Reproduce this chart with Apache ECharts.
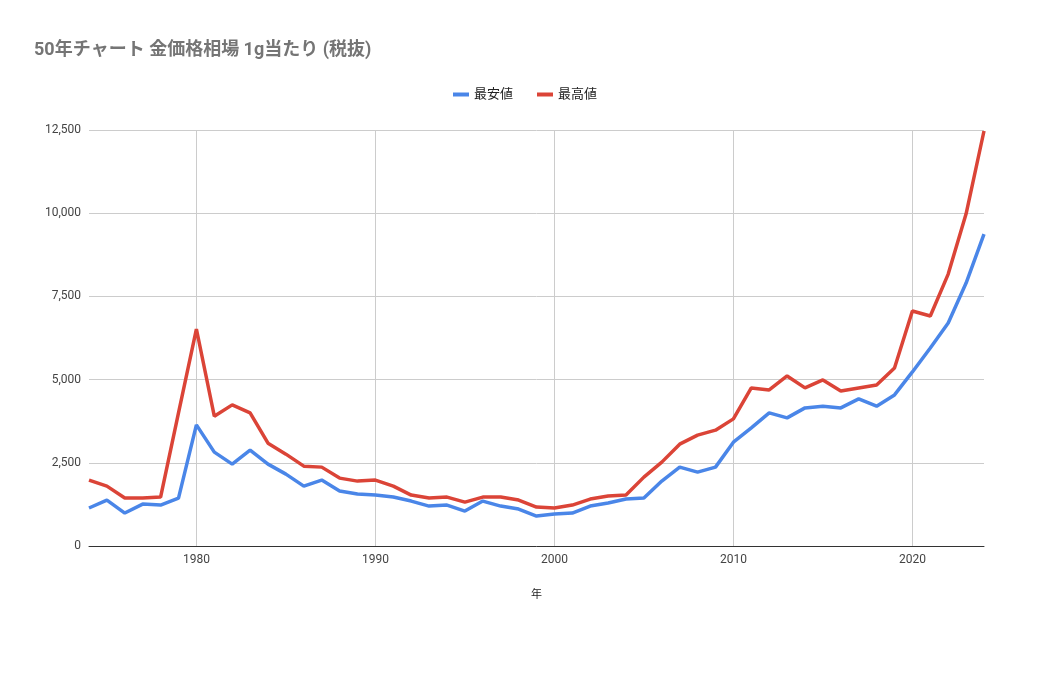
<!DOCTYPE html>
<html><head><meta charset="utf-8">
<script src="https://cdn.jsdelivr.net/npm/echarts@6/dist/echarts.min.js"></script>
<style>html,body{margin:0;padding:0;background:#fff}#c{width:1050px;height:679px}</style>
</head><body><div id="c"></div>
<script>
const years = [];
for (let y = 1974; y <= 2024; y++) years.push(y);
const minValues = [1142,1380,990,1260,1230,1440,3640,2820,2460,2880,2460,2160,1800,1980,1650,1560,1530,1470,1350,1200,1230,1050,1350,1200,1110,900,960,990,1200,1290,1410,1440,1950,2370,2220,2370,3120,3550,4000,3850,4150,4200,4150,4420,4200,4540,5230,5950,6700,7900,9370];
const maxValues = [1980,1800,1440,1440,1470,4000,6520,3900,4240,4000,3090,2760,2400,2370,2040,1950,1980,1800,1530,1440,1470,1320,1470,1470,1380,1170,1140,1230,1410,1500,1530,2070,2520,3060,3330,3480,3820,4750,4690,5110,4750,4990,4660,4750,4840,5350,7060,6910,8170,9980,12470];
const xTicks = [1980,1990,2000,2010,2020];
const font = '"Roboto","Noto Sans CJK JP",sans-serif';
const chart = echarts.init(document.getElementById('c'));
chart.setOption({
  animation:false,
  textStyle:{fontFamily:font},
  title:{text:'50年チャート 金価格相場 1g当たり (税抜)',left:29,top:37,textStyle:{fontSize:18,fontWeight:'bold',color:'#757575',fontFamily:font}},
  legend:{top:83,left:'center',itemWidth:16,itemHeight:4,icon:'rect',itemGap:24,textStyle:{fontSize:13,color:'#222'},data:['最安値','最高値']},
  grid:{left:89,right:66,top:130,bottom:133},
  xAxis:{type:'value',min:1974,max:2024,name:'年',nameLocation:'middle',nameGap:44,nameTextStyle:{fontSize:11,color:'#222'},
    axisLine:{lineStyle:{color:'#333'}},axisTick:{show:false,customValues:xTicks},
    axisLabel:{customValues:xTicks,color:'#444',fontSize:12,formatter:v=>String(v)},
    splitLine:{show:true,lineStyle:{color:'#ccc'}}},
  yAxis:{type:'value',min:0,max:12500,interval:2500,axisLine:{show:false},axisTick:{show:false},
    axisLabel:{color:'#444',fontSize:12,formatter:v=>v.toLocaleString('en-US')},
    splitLine:{lineStyle:{color:'#ccc'}}},
  series:[
    {name:'最安値',type:'line',data:years.map((y,i)=>[y,minValues[i]]),showSymbol:false,lineStyle:{width:3.5,color:'#4a86e8'},itemStyle:{color:'#4a86e8'}},
    {name:'最高値',type:'line',data:years.map((y,i)=>[y,maxValues[i]]),showSymbol:false,lineStyle:{width:3.5,color:'#db4437'},itemStyle:{color:'#db4437'}}
  ]
});
</script></body></html>
